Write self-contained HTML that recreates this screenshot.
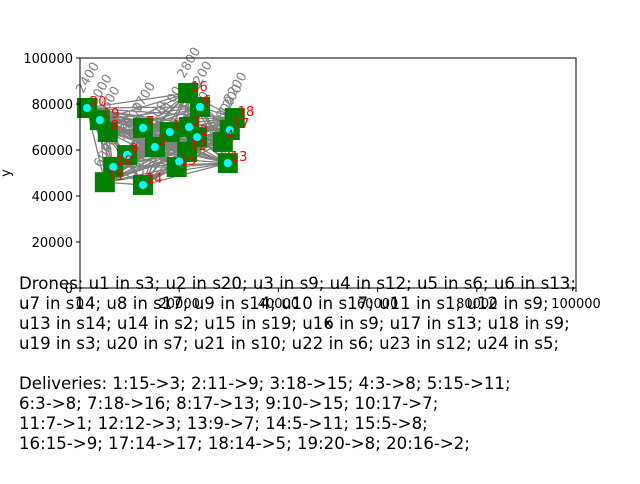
<!DOCTYPE html>
<html><head><meta charset="utf-8"><style>
body{margin:0;background:#fff;width:640px;height:480px;overflow:hidden;font-family:"DejaVu Sans","Liberation Sans",sans-serif;}
</style></head><body>
<svg width="640" height="480" xmlns="http://www.w3.org/2000/svg" font-family="DejaVu Sans, Liberation Sans, sans-serif">
<g id="plot"></g>
</svg>
<script>
const stationIds=[1,2,3,4,5,6,7,8,9,10,11,12,13,14,15,16,17,18,19,20];
const stationX=[18100,23600,22000,28800,15100,24200,12700,5600,9500,6700,5000,21600,29800,12700,19500,21800,30200,31200,4000,1400];
const stationY=[67800,65600,70000,63500,61300,78700,69600,67800,57800,52600,46000,59100,54300,44800,52600,84800,68700,73900,73000,78260];
const droneX=[22000,1400,9500,20000,24200,29800,12700,30200,12700,6700,18100,9500,12700,23600,4000,9500,29800,9500,22000,12700,6700,24200,20000,15100];
const droneY=[70000,78260,57800,55000,78700,54300,69600,68700,44800,52600,67800,57800,44800,65600,73000,57800,54300,57800,70000,69600,52600,78700,55000,61300];
const xTicks=[0,20000,40000,60000,80000,100000];
const yTicks=[0,20000,40000,60000,80000,100000];
const X0=80,X1=576,Y0=288,Y1=58;
const sx=v=>X0+(v/100000)*(X1-X0);
const sy=v=>Y0-(v/100000)*(Y0-Y1);
const NS="http://www.w3.org/2000/svg";
const g=document.getElementById('plot');
function mk(t,a){const e=document.createElementNS(NS,t);for(const k in a)e.setAttribute(k,a[k]);g.appendChild(e);return e;}
for(let i=0;i<stationX.length;i++)for(let j=i+1;j<stationX.length;j++){
 const l=mk('line',{x1:sx(stationX[i]),y1:sy(stationY[i]),x2:sx(stationX[j]),y2:sy(stationY[j]),stroke:'#808080','stroke-width':1.3});
 
 
}
for(let i=0;i<stationX.length;i++){
 const t=mk('text',{x:sx(stationX[i])-4,y:sy(stationY[i])-14,fill:'#808080','font-size':13,transform:'rotate(-60 '+(sx(stationX[i])-4)+' '+(sy(stationY[i])-14)+')'});
 t.textContent=(stationX[i]%10000+1000)+'';
 
 
}
for(let i=0;i<stationX.length;i++){
 const r=mk('rect',{x:sx(stationX[i])-10,y:sy(stationY[i])-10,width:20,height:20,fill:'#008000'});
 
 
}
for(let i=0;i<droneX.length;i++){
 const c=mk('circle',{cx:sx(droneX[i]),cy:sy(droneY[i]),r:4,fill:'#00ffff'});
 
 
}
for(let i=0;i<stationX.length;i++){
 const t=mk('text',{x:sx(stationX[i])+3,y:sy(stationY[i])-2,fill:'#ff0000','font-size':13});
 t.textContent=stationIds[i];
 
 
}
const fr=mk('rect',{x:X0,y:Y1,width:X1-X0,height:Y0-Y1,fill:'none',stroke:'#000','stroke-width':1});


xTicks.forEach(v=>{
 mk('line',{x1:sx(v),x2:sx(v),y1:Y0,y2:Y0+4,stroke:'#000'});
 const t=mk('text',{x:sx(v),y:Y0+20,'text-anchor':'middle','font-size':13});
 t.textContent=v;
 
 
});
yTicks.forEach(v=>{
 mk('line',{x1:X0-4,x2:X0,y1:sy(v),y2:sy(v),stroke:'#000'});
 const t=mk('text',{x:X0-7,y:sy(v)+5,'text-anchor':'end','font-size':13});
 t.textContent=v;
 
 
});
const yl=mk('text',{x:10,y:173,'font-size':13,'text-anchor':'middle',transform:'rotate(-90 10 173)'});
yl.textContent='y';


const xl=mk('text',{x:328,y:327,'font-size':13,'text-anchor':'middle'});
xl.textContent='x';


const lines=["Drones: u1 in s3; u2 in s20; u3 in s9; u4 in s12; u5 in s6; u6 in s13;",
"u7 in s14; u8 in s17; u9 in s14; u10 in s17; u11 in s1; u12 in s9;",
"u13 in s14; u14 in s2; u15 in s19; u16 in s9; u17 in s13; u18 in s9;",
"u19 in s3; u20 in s7; u21 in s10; u22 in s6; u23 in s12; u24 in s5;",
"",
"Deliveries: 1:15->3; 2:11->9; 3:18->15; 4:3->8; 5:15->11;",
"6:3->8; 7:18->16; 8:17->13; 9:10->15; 10:17->7;",
"11:7->1; 12:12->3; 13:9->7; 14:5->11; 15:5->8;",
"16:15->9; 17:14->17; 18:14->5; 19:20->8; 20:16->2;"];
lines.forEach((s,i)=>{
 if(!s)return;
 const t=mk('text',{x:19,y:289+i*20,'font-size':16.6});
 t.textContent=s;
 
 
});
</script>
</body></html>
